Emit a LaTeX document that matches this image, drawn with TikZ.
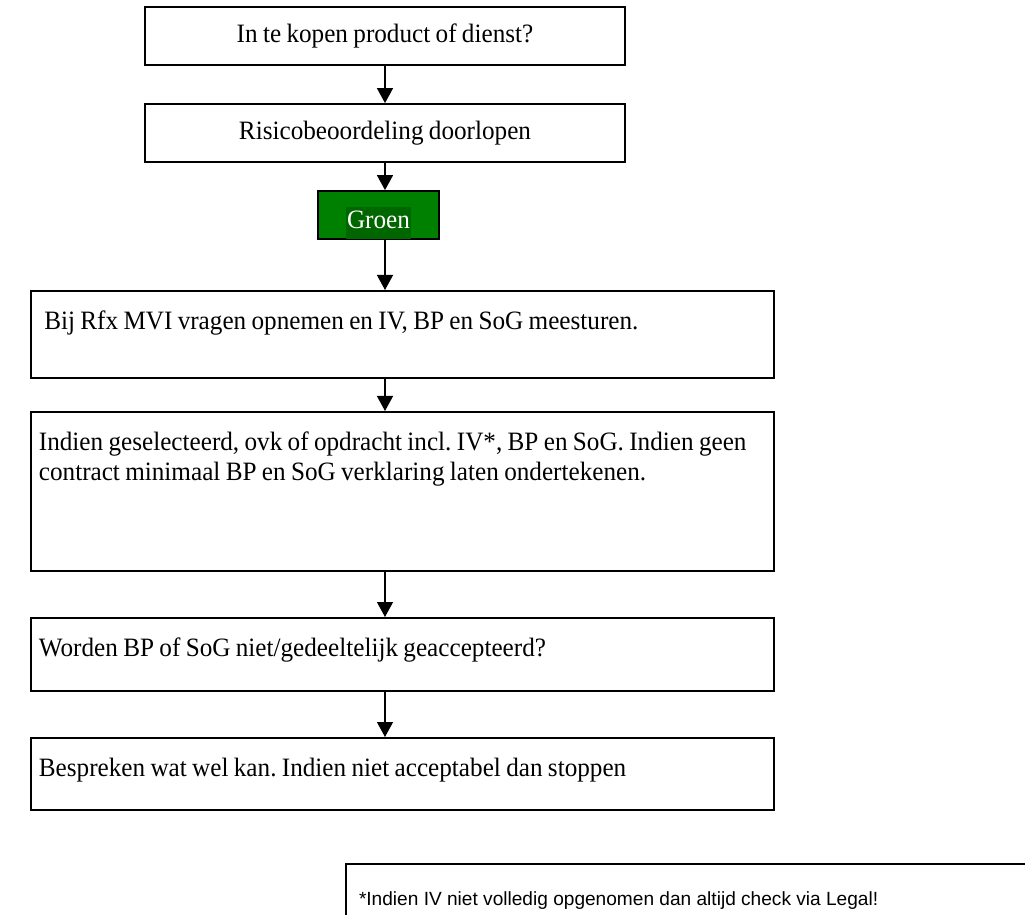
\documentclass[tikz,border=0pt]{standalone}
\usepackage{fontspec}
\setmainfont{Liberation Serif}[FakeStretch=0.95,WordSpace=0.85]
\newfontfamily\notefont{Liberation Sans}
\usetikzlibrary{arrows.meta}
\definecolor{groen}{RGB}{0,128,0}
\definecolor{groendonker}{RGB}{0,102,0}
\begin{document}
\frenchspacing
\begin{tikzpicture}[x=0.5pt,y=-0.5pt,>={Triangle[length=7.5pt,width=8pt]},line join=miter,
		font=\fontsize{13.25}{15}\selectfont,
		box/.style={draw,line width=0.9pt,inner sep=0pt},
		wide/.style={box,anchor=north west,align=flush left,text width=363.5pt,inner xsep=4pt,inner ysep=0pt,text height=19.5pt},
		flow/.style={->,line width=0.7pt}]
		\useasboundingbox (0,0) rectangle (1025,915);
		\clip (0,0) rectangle (1025,915);
		\coordinate (as) at (385,0);
		\node[box,minimum width=240pt,minimum height=29pt] (vraag) at (385,36) {In te kopen product of dienst?};
		\node[box,minimum width=240pt,minimum height=29pt] (risico) at (385,133) {Risicobeoordeling doorlopen};
		\node[box,fill=groen,text=white,minimum width=60.5pt,text height=19pt,text depth=5pt] (groen) at (378.5,215)
		{\setlength{\fboxsep}{0.5pt}\colorbox{groendonker}{\strut Groen}};
		\node[wide,text depth=24pt] (maatregel) at (30,290) {\ Bij Rfx MVI vragen opnemen en IV, BP en SoG meesturen.};
		\node[wide,text depth=60pt] (contract) at (30,411) {Indien geselecteerd, ovk of opdracht incl. IV*, BP en SoG. Indien geen\\contract minimaal BP en SoG verklaring laten ondertekenen.};
		\node[wide,text depth=17pt] (acceptatie) at (30,617) {Worden BP of SoG niet/gedeeltelijk geaccepteerd?};
		\node[wide,text depth=16.5pt] (bespreken) at (30,737) {Bespreken wat wel kan. Indien niet acceptabel dan stoppen};
		\node[box,anchor=north west,line width=1pt,font=\notefont\fontsize{9.55}{12}\selectfont,align=flush left,
		text width=400pt,inner xsep=6.5pt,inner ysep=0pt,text height=20.5pt,text depth=20pt] (noot) at (345,863)
		{*Indien IV niet volledig opgenomen dan altijd check via Legal!};
		\draw[flow] (vraag) -- (risico);
		\draw[flow] (risico) -- (risico.south |- groen.north);
		\draw[flow] (groen.south -| as) -- (maatregel.north -| as);
		\draw[flow] (maatregel.south -| as) -- (contract.north -| as);
		\draw[flow] (contract.south -| as) -- (acceptatie.north -| as);
		\draw[flow] (acceptatie.south -| as) -- (bespreken.north -| as);
		\end{tikzpicture}
\end{document}
